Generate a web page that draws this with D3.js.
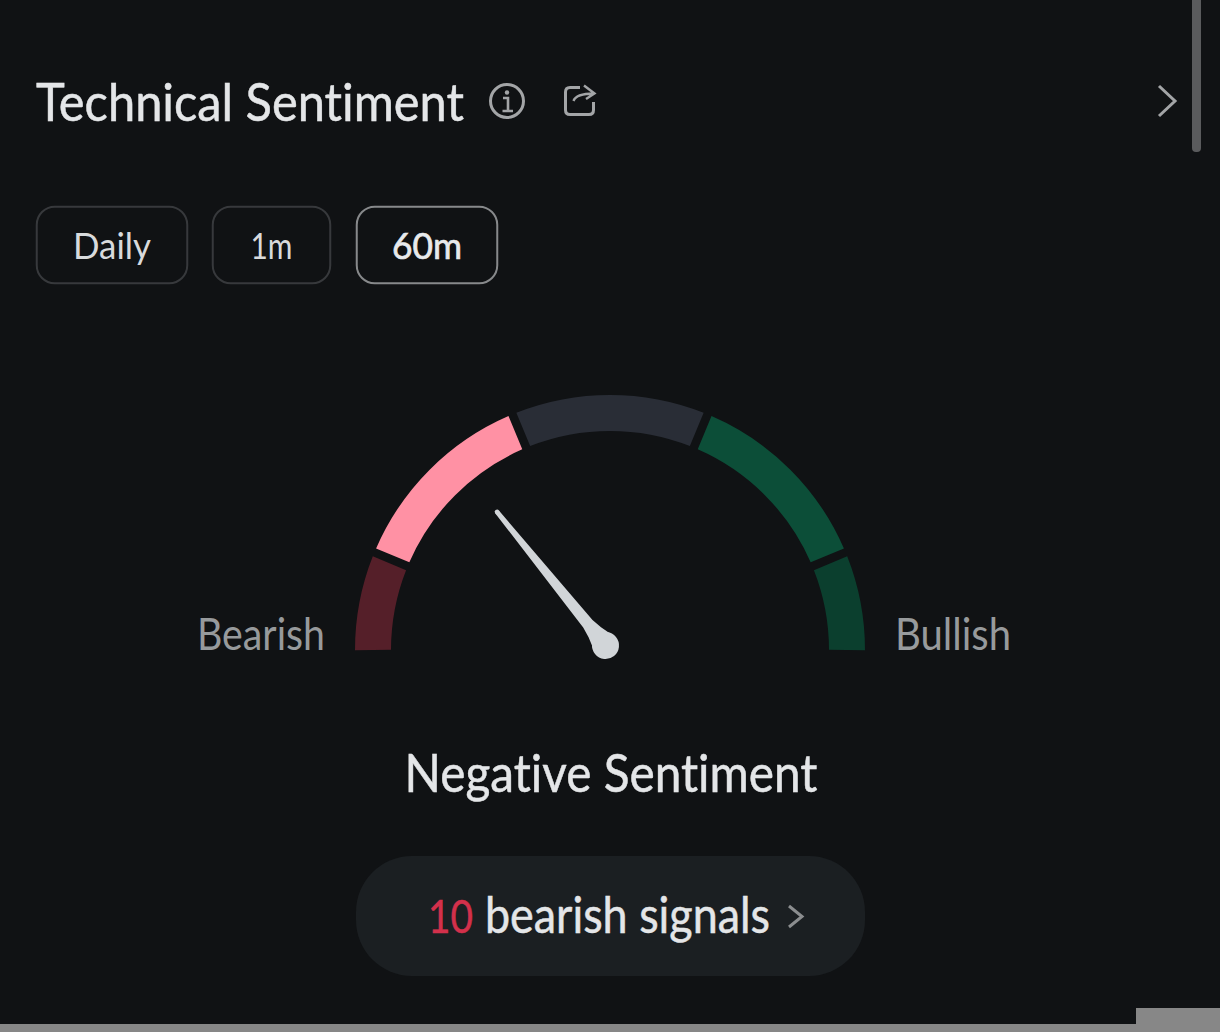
<!DOCTYPE html>
<html>
<head>
<meta charset="utf-8">
<script src="https://cdnjs.cloudflare.com/ajax/libs/d3/7.8.5/d3.min.js"></script>
<style>
  html, body { margin: 0; padding: 0; background: #101214; overflow: hidden; }
  svg { display: block; }
  text { font-family: Lato, "Open Sans", sans-serif; font-variant-ligatures: none; }
</style>
</head>
<body>
<svg id="chart" width="1220" height="1032"></svg>
<script>
// gauge bands, left to right
var bandNames = ["Very bearish", "Bearish", "Neutral", "Bullish", "Very bullish"];
var bandSizes = [1, 2, 2, 2, 1];
var bandColors = ["#551f29", "#ff91a4", "#292d36", "#0c4e38", "#0b3f2e"];

// needle reading on a 0-100 gauge
var needleValue = 28.3;
var gaugeEnds = ["Bearish", "Bullish"];

var tabs = ["Daily", "1m", "60m"];
var activeTab = "60m";

var titleText = "Technical Sentiment";
var verdictText = "Negative Sentiment";
var signalCount = "10";
var signalText = "bearish signals";

var svg = d3.select("#chart");

// fixed-width text, the face is condensed in the original
function label(x, y, str, size, color, width, anchor, heavy) {
  return svg.append("text")
    .attr("x", x).attr("y", y)
    .attr("font-size", size)
    .attr("fill", color)
    .attr("stroke", color)
    .attr("stroke-width", heavy || 0)
    .attr("text-anchor", anchor || "start")
    .attr("textLength", width)
    .attr("lengthAdjust", "spacingAndGlyphs")
    .text(str);
}

// header
label(36, 121, titleText, 52, "#e4e6e8", 428, "start", 0.5);

var iconColor = "#a3a5a7";
svg.append("circle").attr("cx", 507).attr("cy", 101).attr("r", 16.5)
  .attr("fill", "none").attr("stroke", iconColor).attr("stroke-width", 3);
svg.append("circle").attr("cx", 507).attr("cy", 92.5).attr("r", 2.2).attr("fill", iconColor);
svg.append("path").attr("d", "M503 98H508V110M502.5 111H513")
  .attr("fill", "none").attr("stroke", iconColor).attr("stroke-width", 2.6);

svg.append("path")
  .attr("d", "M580 87.5H570Q565.5 87.5 565.5 92V110Q565.5 114.5 570 114.5H589Q593.5 114.5 593.5 110V102")
  .attr("fill", "none").attr("stroke", iconColor).attr("stroke-width", 3);
svg.append("path")
  .attr("d", "M573.5 101Q576 93.5 594 93.5M584 85.5L594.5 93.5L586 99")
  .attr("fill", "none").attr("stroke", iconColor).attr("stroke-width", 2.4);

svg.append("path").attr("d", "M1159 86L1175 101L1159 116")
  .attr("fill", "none").attr("stroke", "#a3a5a7").attr("stroke-width", 3);

// scrollbar and bottom edge
svg.append("rect").attr("x", 1192).attr("y", -8).attr("width", 9).attr("height", 160).attr("rx", 4).attr("fill", "#5a5b5d");
svg.append("rect").attr("x", 0).attr("y", 1024).attr("width", 1220).attr("height", 8).attr("fill", "#878787");
svg.append("rect").attr("x", 1136).attr("y", 1008).attr("width", 84).attr("height", 24).attr("fill", "#878787");

// tabs
var tabX = [36, 212, 356];
var tabW = [152, 119, 142];
var tabTextW = [78, 42, 70];
tabs.forEach(function(t, i) {
  var on = t === activeTab;
  svg.append("rect")
    .attr("x", tabX[i] + 0.75).attr("y", 206.75)
    .attr("width", tabW[i] - 1.5).attr("height", 76.5).attr("rx", 18)
    .attr("fill", "none")
    .attr("stroke", on ? "#87898b" : "#37393c")
    .attr("stroke-width", 2);
  label(tabX[i] + tabW[i] / 2, 259, t, 37, on ? "#e8eaec" : "#d8dadc", tabTextW[i], "middle", on ? 0.7 : 0);
});

// gauge
var cx = 610, cy = 650, outerR = 255, innerR = 219;
var pad = 0.036;

// half a pad past each end so the outer bands sit flat on the baseline
var pie = d3.pie().sort(null)
  .startAngle(-Math.PI / 2 - pad / 2).endAngle(Math.PI / 2 + pad / 2)
  .padAngle(pad);

var arc = d3.arc().innerRadius(innerR).outerRadius(outerR).padRadius(237);

var gauge = svg.append("g").attr("transform", "translate(" + cx + "," + cy + ")");
gauge.selectAll("path.band")
  .data(pie(bandSizes))
  .join("path")
  .attr("class", "band")
  .attr("d", arc)
  .attr("fill", function(d, i) { return bandColors[i]; });

label(197, 650, gaugeEnds[0], 44, "#979a9c", 128);
label(895, 650, gaugeEnds[1], 44, "#979a9c", 116);

// needle, drawn pointing up and rotated by the value
var needleAngle = d3.scaleLinear().domain([0, 100]).range([-90, 90]);
var needleLen = 172;
var needleShape = [[-2.3, -needleLen], [2.3, -needleLen], [6, -28], [8, -17], [13, 0],
                   [-13, 0], [-8, -17], [-6, -28]];

var needle = svg.append("g")
  .attr("transform", "translate(605.5,645.5) rotate(" + needleAngle(needleValue) + ")")
  .attr("fill", "#d1d5d8");
needle.append("path").attr("d", d3.line()(needleShape) + "Z");
needle.append("circle").attr("r", 13.5);
needle.append("circle").attr("cy", -needleLen).attr("r", 2.4);

// verdict
label(611, 792, verdictText, 52, "#e4e6e8", 413, "middle", 0.5);

// signals pill
svg.append("rect").attr("x", 356).attr("y", 856).attr("width", 509).attr("height", 120)
  .attr("rx", 56).attr("fill", "#1b1f22");
label(428, 933, signalCount, 47, "#d3304b", 45, "start", 0.5);
label(485, 933, signalText, 50, "#e4e6e8", 285, "start", 0.5);
svg.append("path").attr("d", "M789 906L802 916.5L789 927")
  .attr("fill", "none").attr("stroke", "#8b8d8f").attr("stroke-width", 3);
</script>
</body>
</html>
